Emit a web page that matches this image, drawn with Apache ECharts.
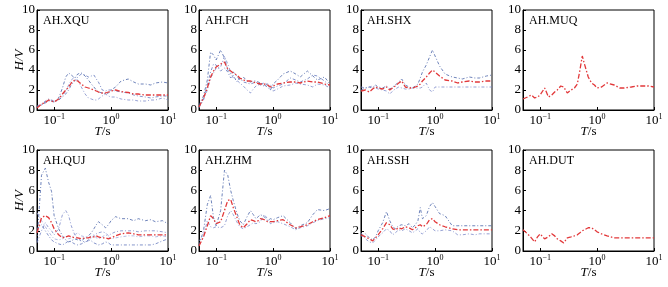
<!DOCTYPE html>
<html>
<head>
<meta charset="utf-8">
<script src="https://cdn.jsdelivr.net/npm/echarts@6/dist/echarts.min.js"></script>
<style>
html, body { margin: 0; padding: 0; background: #fff; }
#hv { width: 668px; height: 287px; }
</style>
</head>
<body>
<div id="hv"></div>
<script>
// periods (s) shared by every curve
var periods = [0.05, 0.06, 0.07, 0.08, 0.09, 0.1, 0.12, 0.14, 0.16, 0.18, 0.2, 0.23, 0.26, 0.3, 0.35, 0.4, 0.45, 0.5, 0.55, 0.6, 0.7, 0.8, 0.9, 1, 1.2, 1.5, 2, 2.5, 3, 4, 5, 6, 8, 10];

var stations = ['AH.XQU', 'AH.FCH', 'AH.SHX', 'AH.MUQ', 'AH.QUJ', 'AH.ZHM', 'AH.SSH', 'AH.DUT'];
var yTicks = [0, 2, 4, 6, 8, 10];

// AH.XQU
var xquMean = [0.2, 0.6, 0.75, 1.0, 0.9, 0.8, 1.1, 1.6, 2.0, 2.3, 2.7, 3.0, 2.9, 2.6, 2.3, 2.2, 2.1, 2.0, 1.9, 1.8, 1.7, 1.7, 1.8, 1.9, 2.0, 1.85, 1.75, 1.6, 1.6, 1.5, 1.5, 1.5, 1.5, 1.5];
var xquA = [0.3, 0.5, 0.8, 1.0, 0.9, 0.8, 1.2, 2.2, 3.3, 3.7, 3.5, 3.2, 3.6, 3.7, 3.4, 3.0, 2.6, 2.3, 2.0, 1.8, 1.7, 1.6, 1.7, 2.0, 2.3, 2.9, 3.1, 2.8, 2.6, 2.6, 2.5, 2.7, 2.8, 2.7];
var xquB = [0.4, 0.6, 0.9, 1.1, 1.0, 0.9, 1.0, 1.4, 1.9, 2.5, 3.0, 3.3, 3.0, 2.3, 1.6, 1.2, 1.1, 1.0, 1.0, 1.1, 1.4, 1.6, 1.4, 1.3, 1.3, 1.1, 1.0, 1.0, 0.9, 0.9, 1.0, 1.0, 1.2, 1.0];
var xquC = [0.3, 0.5, 0.7, 0.9, 0.9, 0.8, 1.0, 1.3, 1.6, 2.0, 2.5, 2.9, 3.3, 3.6, 3.5, 3.3, 3.4, 3.5, 3.1, 2.8, 2.0, 1.9, 2.0, 2.0, 1.9, 1.8, 1.7, 1.5, 1.4, 1.3, 1.2, 1.3, 1.4, 1.4];

// AH.FCH
var fchMean = [0.3, 1.2, 2.2, 3.3, 3.9, 4.3, 4.6, 4.8, 4.1, 3.9, 3.7, 3.5, 3.2, 3.0, 2.9, 2.9, 2.8, 2.7, 2.65, 2.6, 2.6, 2.5, 2.3, 2.4, 2.6, 2.7, 2.8, 2.8, 2.7, 2.9, 2.8, 2.8, 2.6, 2.5];
var fchA = [0.5, 1.4, 3.0, 5.8, 5.5, 5.0, 6.0, 5.2, 4.0, 3.6, 3.8, 3.4, 3.0, 3.3, 2.9, 2.8, 2.9, 2.9, 2.8, 2.7, 2.5, 2.3, 2.0, 2.6, 3.0, 3.6, 3.9, 3.6, 3.3, 3.9, 3.4, 3.0, 3.3, 2.6];
var fchB = [0.3, 1.0, 2.0, 3.2, 3.7, 4.2, 4.3, 5.4, 4.6, 3.8, 3.2, 3.0, 2.7, 2.4, 2.0, 1.7, 2.1, 2.4, 2.5, 2.6, 2.7, 2.6, 2.0, 1.9, 2.1, 2.4, 2.5, 2.7, 2.6, 2.5, 2.3, 2.6, 2.5, 2.2];
var fchC = [0.2, 1.2, 2.5, 3.8, 4.6, 4.5, 3.9, 4.2, 3.8, 3.2, 3.5, 2.8, 3.2, 2.8, 2.7, 2.6, 2.7, 2.8, 2.6, 2.5, 2.4, 2.6, 2.5, 2.2, 2.4, 2.6, 3.2, 3.0, 2.8, 3.1, 3.5, 3.4, 2.9, 2.4];

// AH.SHX
var shxMean = [1.9, 2.0, 1.8, 2.1, 2.3, 2.2, 2.1, 2.3, 2.0, 2.2, 2.4, 2.7, 2.9, 2.3, 2.2, 2.2, 2.3, 2.4, 2.6, 2.9, 3.3, 3.7, 4.0, 3.8, 3.4, 3.0, 2.9, 2.7, 2.8, 2.9, 2.8, 2.8, 2.9, 2.9];
var shxA = [2.0, 2.2, 2.3, 2.2, 2.5, 2.3, 2.2, 2.4, 2.1, 2.3, 2.5, 2.8, 3.1, 2.5, 2.3, 2.2, 2.4, 2.6, 3.2, 3.8, 4.5, 5.3, 6.0, 5.4, 4.4, 3.6, 3.3, 3.2, 3.1, 3.3, 3.2, 3.2, 3.4, 3.5];
var shxB = [2.3, 2.2, 2.3, 2.4, 2.2, 2.1, 2.0, 1.9, 1.6, 1.9, 2.1, 2.3, 2.2, 2.1, 2.1, 2.2, 2.2, 2.2, 2.2, 2.3, 2.7, 2.0, 1.8, 2.3, 2.3, 2.3, 2.3, 2.3, 2.3, 2.3, 2.3, 2.3, 2.3, 2.3];

// AH.MUQ (single record)
var muqMean = [1.1, 1.3, 1.5, 1.2, 1.3, 1.5, 2.2, 1.3, 1.5, 1.8, 2.0, 2.4, 2.3, 1.7, 2.0, 2.2, 2.6, 4.0, 5.4, 4.6, 3.3, 2.7, 2.5, 2.2, 2.3, 2.7, 2.5, 2.2, 2.2, 2.3, 2.4, 2.4, 2.4, 2.3];

// AH.QUJ
var qujMean = [1.8, 3.3, 3.5, 3.3, 2.8, 2.2, 1.6, 1.3, 1.4, 1.5, 1.4, 1.3, 1.3, 1.2, 1.3, 1.3, 1.4, 1.4, 1.5, 1.4, 1.3, 1.3, 1.2, 1.3, 1.5, 1.7, 1.8, 1.7, 1.6, 1.6, 1.6, 1.6, 1.6, 1.6];
var qujA = [1.0, 7.5, 8.2, 6.8, 5.9, 3.5, 2.2, 1.5, 1.1, 0.9, 1.0, 1.2, 1.1, 1.0, 1.3, 1.5, 1.8, 2.2, 2.6, 2.9, 2.6, 2.3, 2.6, 3.0, 3.4, 3.2, 3.2, 3.0, 3.2, 3.0, 3.1, 2.9, 3.0, 2.7];
var qujB = [0.8, 2.0, 2.8, 2.3, 2.0, 1.6, 2.2, 3.6, 4.0, 3.5, 2.5, 1.6, 1.3, 1.0, 0.9, 1.0, 1.3, 1.5, 1.7, 1.8, 1.9, 1.8, 1.5, 1.7, 1.9, 2.0, 2.0, 2.0, 1.9, 2.0, 2.0, 2.0, 1.9, 1.8];
var qujC = [2.2, 2.6, 2.0, 1.5, 1.1, 0.9, 0.7, 0.6, 0.8, 1.0, 0.9, 0.7, 0.6, 0.7, 0.9, 1.1, 1.0, 0.8, 0.7, 0.6, 0.7, 0.9, 0.8, 0.6, 0.6, 0.6, 0.6, 0.6, 0.6, 0.6, 0.6, 0.7, 1.0, 1.2];
var qujD = [3.8, 3.0, 2.4, 1.9, 1.5, 1.2, 1.1, 1.2, 1.5, 1.2, 1.3, 1.6, 1.8, 1.5, 1.4, 1.3, 1.5, 1.6, 1.3, 1.2, 1.4, 1.6, 1.4, 1.2, 1.3, 1.4, 1.5, 1.5, 1.4, 1.5, 1.5, 1.4, 1.5, 1.4];

// AH.ZHM
var zhmMean = [0.5, 1.4, 2.5, 3.5, 3.2, 2.7, 2.9, 4.0, 5.0, 5.1, 4.3, 3.4, 2.6, 2.3, 2.7, 3.1, 3.0, 2.9, 3.0, 3.2, 3.1, 2.9, 2.9, 2.9, 3.0, 3.1, 2.6, 2.3, 2.4, 2.6, 2.9, 3.1, 3.3, 3.5];
var zhmA = [0.6, 2.0, 4.6, 5.5, 3.3, 2.5, 4.0, 8.0, 7.5, 6.0, 5.0, 3.8, 3.0, 2.6, 3.4, 4.0, 3.6, 3.2, 3.4, 3.6, 3.4, 3.0, 3.2, 3.1, 3.3, 3.5, 2.8, 2.2, 2.5, 2.8, 3.6, 4.1, 4.0, 4.2];
var zhmB = [1.0, 1.5, 3.0, 2.4, 2.3, 2.4, 2.3, 2.5, 3.5, 4.0, 3.6, 2.9, 2.4, 2.2, 2.4, 2.6, 2.8, 2.7, 2.8, 2.9, 3.6, 3.2, 2.7, 2.8, 2.9, 2.7, 2.4, 2.1, 2.3, 2.5, 2.8, 3.0, 3.2, 3.3];

// AH.SSH
var sshMean = [1.6, 1.4, 1.2, 1.0, 1.3, 1.6, 2.2, 2.8, 2.6, 2.2, 2.1, 2.3, 2.2, 2.4, 2.3, 2.1, 2.3, 2.5, 2.6, 2.4, 2.6, 3.1, 3.2, 2.9, 2.6, 2.4, 2.2, 2.1, 2.1, 2.1, 2.1, 2.1, 2.1, 2.1];
var sshA = [1.4, 1.7, 1.3, 1.1, 1.4, 2.0, 2.8, 3.9, 3.0, 2.4, 2.2, 2.5, 2.6, 2.5, 2.7, 2.3, 2.6, 3.0, 4.3, 3.2, 3.5, 4.4, 4.8, 4.4, 3.7, 3.5, 2.5, 2.5, 2.5, 2.5, 2.5, 2.5, 2.5, 2.5];
var sshB = [1.8, 1.2, 0.9, 0.8, 1.1, 1.4, 1.8, 2.2, 2.0, 1.6, 1.8, 2.1, 2.0, 2.2, 2.0, 1.8, 2.0, 2.2, 1.8, 1.7, 2.0, 2.4, 2.2, 2.0, 2.0, 2.1, 2.0, 1.6, 1.6, 1.7, 1.6, 1.7, 1.7, 1.7];

// AH.DUT (single record)
var dutMean = [2.1, 1.7, 1.3, 0.9, 1.4, 1.7, 1.2, 1.4, 1.7, 1.5, 1.2, 1.0, 0.8, 1.3, 1.4, 1.5, 1.6, 1.8, 2.0, 2.1, 2.3, 2.3, 2.1, 1.9, 1.7, 1.5, 1.3, 1.3, 1.3, 1.3, 1.3, 1.3, 1.3, 1.3];

var meanCurves = [xquMean, fchMean, shxMean, muqMean, qujMean, zhmMean, sshMean, dutMean];
var recordCurves = [
  [xquA, xquB, xquC],
  [fchA, fchB, fchC],
  [shxA, shxB],
  [],
  [qujA, qujB, qujC, qujD],
  [zhmA, zhmB],
  [sshA, sshB],
  []
];

var blues = ['#3d5aa3', '#7483c6', '#5a6fb8', '#9aa3d8'];
var serif = 'Liberation Serif';
var colLeft = [37, 199, 361, 523];
var rowTop = [10, 150];

var grids = [], xAxes = [], yAxes = [], titles = [], series = [];

function decadeLabel(v) {
  var e = Math.log10(v);
  if (Math.abs(e - Math.round(e)) > 1e-6) return '';
  e = Math.round(e);
  return '{b|10}{s|' + (e < 0 ? '\u2212' + (-e) : e) + '}';
}

stations.forEach(function (name, i) {
  var col = i % 4, row = Math.floor(i / 4);
  grids.push({
    left: colLeft[col], top: rowTop[row], width: 131, height: row ? 101 : 100,
    show: true, borderColor: '#000', borderWidth: 1, backgroundColor: 'transparent'
  });
  xAxes.push({
    gridIndex: i, type: 'log', logBase: 10, min: 0.05, max: 10,
    name: '{i|T}/s', nameLocation: 'middle', nameGap: 15, nameMoveOverlap: false,
    nameTextStyle: { fontFamily: serif, fontSize: 13, color: '#000', rich: { i: { fontStyle: 'italic', fontFamily: serif, fontSize: 13 } } },
    axisLine: { show: true, lineStyle: { color: '#000', width: 1 } },
    axisTick: { show: true, inside: true, length: 3, lineStyle: { color: '#000' } },
    minorTick: { show: false },
    splitLine: { show: false },
    axisLabel: {
      margin: 3, color: '#000', fontFamily: serif, formatter: decadeLabel,
      rich: { b: { fontSize: 13, fontFamily: serif }, s: { fontSize: 8, fontFamily: serif, padding: [0, 0, 7, 0] } }
    }
  });
  yAxes.push({
    gridIndex: i, type: 'value', min: yTicks[0], max: yTicks[yTicks.length - 1], interval: 2,
    name: col === 0 ? 'H/V' : '', nameLocation: 'middle', nameGap: 11, nameMoveOverlap: false,
    nameTextStyle: { fontFamily: serif, fontSize: 13, fontStyle: 'italic', color: '#000' },
    axisLine: { show: true, lineStyle: { color: '#000', width: 1 } },
    axisTick: { show: true, inside: true, length: 3, lineStyle: { color: '#000' } },
    splitLine: { show: false },
    axisLabel: { margin: 2, color: '#000', fontFamily: serif, fontSize: 13 }
  });
  titles.push({
    text: name, left: colLeft[col] + 6, top: rowTop[row] + 5, padding: 0,
    textStyle: { fontFamily: serif, fontSize: 12, fontWeight: 'normal', color: '#000' }
  });
  recordCurves[i].forEach(function (vals, k) {
    series.push({
      type: 'line', xAxisIndex: i, yAxisIndex: i, symbol: 'none', silent: true,
      data: periods.map(function (t, j) { return [t, vals[j]]; }),
      lineStyle: { color: blues[k % blues.length], width: 1, type: [3, 2, 1, 2], opacity: 0.75 }
    });
  });
  series.push({
    type: 'line', xAxisIndex: i, yAxisIndex: i, symbol: 'none', silent: true, z: 5,
    data: periods.map(function (t, j) { return [t, meanCurves[i][j]]; }),
    lineStyle: { color: '#e2383a', width: 1.3, type: [5, 2, 1.5, 2] }
  });
});

var chart = echarts.init(document.getElementById('hv'));
chart.setOption({
  animation: false,
  backgroundColor: '#fff',
  title: titles,
  grid: grids,
  xAxis: xAxes,
  yAxis: yAxes,
  series: series
});
</script>
</body>
</html>
